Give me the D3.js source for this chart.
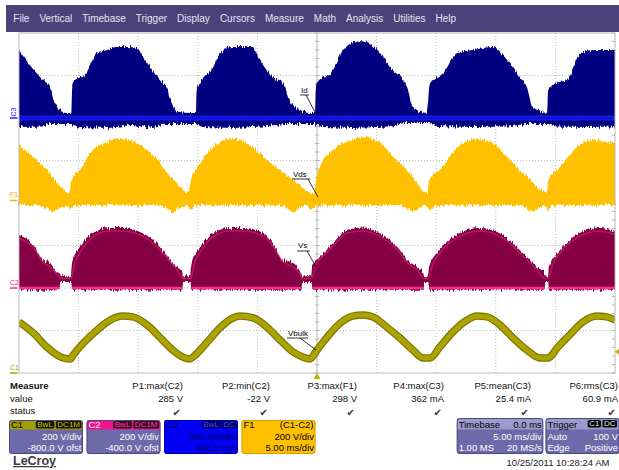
<!DOCTYPE html>
<html><head><meta charset="utf-8">
<script src="https://cdn.jsdelivr.net/npm/d3@7"></script>
<style>
html,body{margin:0;padding:0;background:#fff;}
svg{display:block;font-family:"Liberation Sans",Arial,sans-serif;}
</style></head><body>
<svg id="scope" width="619" height="470"></svg>
<script>
// ---- acquisition data (time in ms, trigger at 0) ----
const timeDomain = [-25, 25];

// C3 drain current Id (mA): upper and lower envelope of the switching trace
const idTop = [[-25,320],[-24.1,249],[-23.0,179],[-22.4,146],[-22.1,85],[-21.6,38],[-21.0,24],[-20.6,24],[-20.55,132],[-20.5,165],[-19.3,216],[-18.5,306],[-17.6,320],[-16.8,334],[-15.9,334],[-15.1,329],[-14.6,287],[-14.0,240],[-13.2,179],[-12.6,146],[-12.3,85],[-11.5,28],[-10.65,24],[-10.15,24],[-10.1,132],[-9.8,165],[-8.7,240],[-8.1,306],[-7.05,334],[-5.4,334],[-4.8,273],[-3.7,193],[-2.85,165],[-2.3,85],[-1.4,38],[-0.6,24],[-0.15,24],[-0.1,132],[0,165],[1.35,226],[2.2,320],[3.5,362],[5.3,306],[6.1,240],[7.55,146],[8.05,52],[9.2,24],[9.4,132],[9.5,165],[10.6,212],[11.75,306],[13.1,320],[14.75,334],[15.95,273],[17.0,193],[17.6,146],[18.1,52],[19.3,24],[19.4,132],[20.1,165],[21.0,179],[22.1,306],[23.2,320],[25,320]];
const idBottom = [[-25,-42],[-23,-40],[-22.4,-28],[-20.6,-28],[-20.0,-42],[-17.5,-47],[-15.5,-33],[-14,-45],[-12.5,-28],[-10.2,-28],[-9.6,-42],[-7,-47],[-4.5,-40],[-2.8,-28],[-0.2,-28],[0.5,-42],[3,-47],[6,-40],[7.3,-24],[9.4,-24],[10,-38],[13,-42],[16,-40],[17.5,-28],[19.4,-28],[20,-40],[23,-42],[25,-40]];

// F1 = C1 - C2, drain-source voltage Vds (V)
const vdsTop = [[-25,261],[-23.8,204],[-22.65,143],[-21.8,82],[-21.3,49],[-20.75,35],[-20.65,87],[-19.9,143],[-18.8,237],[-17.6,275],[-16.5,289],[-15.4,275],[-14.25,237],[-13.2,176],[-12.3,110],[-11.75,82],[-11.3,49],[-10.75,40],[-10.65,73],[-9.8,176],[-8.7,251],[-7.05,294],[-5.4,251],[-4.2,190],[-3.1,143],[-2.0,96],[-1.2,63],[-0.6,40],[-0.25,35],[-0.15,73],[0.25,157],[1.35,237],[2.5,275],[3.85,298],[5.3,270],[6.4,204],[7.55,143],[8.4,82],[9.05,40],[9.3,35],[9.4,96],[10.3,143],[11.75,247],[13.4,289],[14.75,270],[15.95,204],[17.0,143],[18.1,87],[18.7,49],[19.3,40],[19.4,96],[20.4,157],[21.8,251],[23.15,284],[25,270]];
const vdsBottom = [[-25,-21],[-23.2,-22],[-22.6,-38],[-22.15,-57],[-21.6,-34],[-21.0,-24],[-20.7,-40],[-20.4,-22],[-13.1,-22],[-12.6,-38],[-12.1,-59],[-11.6,-34],[-11.0,-24],[-10.65,-45],[-10.3,-22],[-3.0,-22],[-2.5,-38],[-2.0,-59],[-1.5,-34],[-0.9,-24],[-0.5,-42],[-0.1,-22],[7.1,-22],[7.55,-38],[8.05,-57],[8.6,-32],[9.1,-24],[9.5,-45],[9.9,-22],[17.1,-22],[17.6,-38],[18.1,-55],[18.7,-32],[19.1,-24],[19.4,-45],[19.8,-22],[25,-21]];

// C2 source voltage Vs (V): envelope, lower edge and the dense centre of the trace
const vsTop = [[-25,249],[-23.8,202],[-23.0,132],[-22.4,118],[-21.8,75],[-21.55,66],[-21.5,55],[-20.65,55],[-20.55,118],[-19.9,193],[-18.8,259],[-17.35,282],[-16.3,282],[-14.85,264],[-13.75,226],[-13.2,193],[-12.3,132],[-11.75,99],[-11.3,75],[-11.25,55],[-10.65,55],[-10.55,108],[-9.8,193],[-8.7,259],[-7.3,282],[-6.2,282],[-4.5,259],[-3.7,212],[-2.85,132],[-2.0,118],[-1.4,75],[-1.25,55],[-0.5,55],[-0.4,108],[0.25,146],[1.35,212],[2.5,273],[3.85,285],[5.05,264],[6.4,212],[6.95,179],[7.55,132],[8.4,99],[8.9,71],[9.0,55],[9.3,55],[9.4,99],[10.3,179],[11.15,226],[12.6,273],[13.7,282],[15.1,264],[16.45,212],[17.0,179],[17.85,132],[18.45,99],[19.1,71],[19.15,55],[19.4,55],[19.45,99],[20.4,179],[21.2,226],[22.65,273],[23.75,282],[25,264]];
const vsLow = [[-25,-8],[-21.6,-8],[-21.55,28],[-20.6,28],[-20.55,-8],[-14.1,-8],[-14,-22],[-13.9,-8],[-11.3,-8],[-11.25,28],[-10.6,28],[-10.55,-8],[-1.3,-8],[-1.25,28],[-0.45,28],[-0.4,-8],[8.95,-8],[9.0,28],[9.35,28],[9.4,-8],[19.1,-8],[19.15,28],[19.4,28],[19.45,-8],[25,-8]];
const vsCore = [[-25,235],[-23.8,190],[-23.0,122],[-22.4,100],[-21.8,62],[-21.5,45],[-20.65,45],[-20.3,120],[-19.9,165],[-18.8,240],[-17.35,268],[-16.3,268],[-14.85,250],[-13.75,212],[-13.2,180],[-12.3,122],[-11.6,75],[-11.25,45],[-10.6,45],[-10.3,115],[-9.8,170],[-8.7,242],[-7.3,268],[-6.2,268],[-4.5,245],[-3.7,198],[-2.85,125],[-2.0,100],[-1.4,62],[-1.25,45],[-0.45,45],[-0.1,110],[0.25,135],[1.35,198],[2.5,258],[3.85,268],[5.05,250],[6.4,198],[6.95,165],[7.55,120],[8.4,85],[8.95,45],[9.35,45],[9.7,110],[10.3,165],[11.15,212],[12.6,258],[13.7,268],[15.1,250],[16.45,198],[17.0,165],[17.85,120],[18.45,85],[19.1,45],[19.4,45],[19.8,115],[20.4,165],[21.2,212],[22.65,258],[23.75,268],[25,250]];

// C1 bulk capacitor voltage Vbulk (V)
const vbulk = [[-25,240],[-23.8,188],[-22.65,122],[-21.8,85],[-21.3,71],[-20.7,66],[-20.45,85],[-19.6,141],[-18.45,202],[-17.35,249],[-16.3,268],[-15.45,264],[-14.25,226],[-13.2,169],[-12.1,108],[-11.25,75],[-10.65,66],[-10.4,75],[-9.2,146],[-8.15,212],[-7.05,259],[-6.45,268],[-5.35,259],[-4.2,216],[-3.1,155],[-2.0,99],[-1.2,75],[-0.6,66],[0,108],[0.85,169],[1.95,235],[3.0,268],[3.85,273],[4.7,264],[5.85,216],[6.95,165],[8.05,108],[8.9,71],[9.5,71],[10.3,122],[11.4,193],[12.6,249],[13.4,268],[14.25,264],[15.35,226],[16.45,165],[17.6,108],[18.7,71],[19.4,71],[20.15,118],[21.2,179],[22.3,240],[23.5,268],[24.3,264],[25,249]];

// vertical settings per channel: units per division and offset
const c1Setting = {perDiv: 200, offset: -800};
const c2Setting = {perDiv: 200, offset: -400};
const c3Setting = {perDiv: 200, offset: 400};
const f1Setting = {perDiv: 200, offset: 12};
const triggerLevel = 100;

// ---- readouts ----
const menuItems = ["File","Vertical","Timebase","Trigger","Display","Cursors","Measure","Math","Analysis","Utilities","Help"];
const measureNames = ["P1:max(C2)","P2:min(C2)","P3:max(F1)","P4:max(C3)","P5:mean(C3)","P6:rms(C3)"];
const measureValues = ["285 V","-22 V","298 V","362 mA","25.4 mA","60.9 mA"];
const boxNames = ["C1","C2","C3","F1"];
const boxBadges = [["BwL","DC1M"],["BwL","DC1M"],["BwL","DC"],[]];
const boxHeadRight = ["","","","(C1-C2)"];
const boxRow1 = ["200 V/div","200 V/div","200 mA/div","200 V/div"];
const boxRow2 = ["-800.0 V ofst","-400.0 V ofst","400.0 mA","5.00 ms/div"];
const timebaseRows = [["Timebase","0.0 ms"],["","5.00 ms/div"],["1.00 MS","20 MS/s"]];
const triggerRows = [["Trigger",""],["Auto","100 V"],["Edge","Positive"]];
const triggerBadges = ["C1","DC"];
const stamp = "10/25/2011 10:28:24 AM";

// ---- drawing ----
const svg = d3.select("#scope");
const P = {left: 19, right: 615, top: 33, bottom: 373};
const x = d3.scaleLinear().domain(timeDomain).range([P.left, P.right]);
const divY = d3.scaleLinear().domain([-4, 4]).range([P.bottom, P.top]);
const chan = s => d3.scaleLinear().domain([-s.offset - 4*s.perDiv, -s.offset + 4*s.perDiv]).range([P.bottom, P.top]);
const yC1 = chan(c1Setting), yC2 = chan(c2Setting), yC3 = chan(c3Setting), yF1 = chan(f1Setting);

const defs = svg.append("defs");
defs.append("clipPath").attr("id","plotClip").append("rect")
  .attr("x",P.left).attr("y",P.top).attr("width",P.right-P.left).attr("height",P.bottom-P.top);
// jagged vertical noise on the dense switching traces
const f = defs.append("filter").attr("id","grain").attr("x","-1%").attr("y","-20%").attr("width","102%").attr("height","140%");
f.append("feTurbulence").attr("type","fractalNoise").attr("baseFrequency","0.85 0.06").attr("numOctaves",2).attr("seed",7).attr("result","n");
f.append("feColorMatrix").attr("in","n").attr("type","matrix")
  .attr("values","0 0 0 0 0.5  0 1 0 0 0  0 0 0 0 0  0 0 0 0 1").attr("result","m");
f.append("feDisplacementMap").attr("in","SourceGraphic").attr("in2","m").attr("scale",7)
  .attr("xChannelSelector","R").attr("yChannelSelector","G");

// menu bar
svg.append("rect").attr("x",6).attr("y",5).attr("width",613).attr("height",27).attr("fill","#4a4279");
let mx = 13.3;
menuItems.forEach(m => {
  const t = svg.append("text").attr("x",mx).attr("y",22).attr("font-size",10).attr("fill","#e6e4f0").text(m);
  mx += t.node().getComputedTextLength() + 10;
});

// grid
const grid = svg.append("g");
d3.range(-25, 26, 5).forEach(t => {
  if (t === -25 || t === 25) return;
  grid.append("line").attr("x1",x(t)).attr("x2",x(t)).attr("y1",P.top).attr("y2",P.bottom)
    .attr("stroke", t === 0 ? "#b4b4b4" : "#bdbdbd").attr("stroke-dasharray", t === 0 ? null : "1,2");
});
d3.range(-3, 4).forEach(d => {
  grid.append("line").attr("x1",P.left).attr("x2",P.right).attr("y1",divY(d)).attr("y2",divY(d))
    .attr("stroke", d === 0 ? "#b4b4b4" : "#bdbdbd").attr("stroke-dasharray", d === 0 ? null : "1,2");
});
d3.range(-4, 4.01, 0.2).forEach(d => {
  grid.append("line").attr("x1",x(0)-2).attr("x2",x(0)+2).attr("y1",divY(d)).attr("y2",divY(d)).attr("stroke","#b4b4b4");
  grid.append("line").attr("x1",P.right-3).attr("x2",P.right).attr("y1",divY(d)).attr("y2",divY(d)).attr("stroke","#b4b4b4");
});
d3.range(-25, 25.01, 1).forEach(t => {
  grid.append("line").attr("x1",x(t)).attr("x2",x(t)).attr("y1",divY(0)-2).attr("y2",divY(0)+2).attr("stroke","#b4b4b4");
});

function band(top, bottom, y) {
  const up = d3.line().x(d => x(d[0])).y(d => y(d[1])).curve(d3.curveMonotoneX)(top);
  const dn = d3.line().x(d => x(d[0])).y(d => y(d[1]))(bottom.slice().reverse());
  return up + "L" + dn.slice(1) + "Z";
}
const lineOf = y => d3.line().x(d => x(d[0])).y(d => y(d[1])).curve(d3.curveMonotoneX);

const traces = svg.append("g").attr("clip-path","url(#plotClip)");

// C3: Id
traces.append("g").attr("filter","url(#grain)").append("path")
  .attr("d", band(idTop, idBottom, yC3)).attr("fill","#000080");
traces.append("line").attr("x1",P.left).attr("x2",P.right).attr("y1",yC3(0)).attr("y2",yC3(0))
  .attr("stroke","#3a5cff").attr("stroke-width",5).attr("opacity",0.45);
traces.append("line").attr("x1",P.left).attr("x2",P.right).attr("y1",yC3(0)).attr("y2",yC3(0))
  .attr("stroke","#0a0aff").attr("stroke-width",2.6);

// F1: Vds
traces.append("g").attr("filter","url(#grain)").append("path")
  .attr("d", band(vdsTop, vdsBottom, yF1)).attr("fill","#ffc000");

// C2: Vs
traces.append("g").attr("filter","url(#grain)").append("path")
  .attr("d", band(vsTop, vsLow, yC2)).attr("fill","#850042");
// bright zero line of C2 beneath each hump
let seg = [];
const segs = [];
vsLow.forEach(d => { if (d[1] <= 0) seg.push(d[0]); else { if (seg.length) segs.push(seg); seg = []; } });
if (seg.length) segs.push(seg);
segs.forEach(s => {
  traces.append("line").attr("x1",x(s[0])).attr("x2",x(s[s.length-1])).attr("y1",yC2(0)).attr("y2",yC2(0))
    .attr("stroke","#ff2a95").attr("stroke-width",2.4);
});
traces.append("path").attr("d", lineOf(yC2)(vsCore)).attr("fill","none")
  .attr("stroke","#f0288e").attr("stroke-width",1.5).attr("opacity",0.5);

// C1: Vbulk
traces.append("path").attr("d", lineOf(yC1)(vbulk)).attr("fill","none")
  .attr("stroke","#7a7400").attr("stroke-width",7.5).attr("stroke-linejoin","round");
traces.append("path").attr("d", lineOf(yC1)(vbulk)).attr("fill","none")
  .attr("stroke","#aba300").attr("stroke-width",5.2).attr("stroke-linejoin","round");

// frame
svg.append("rect").attr("x",P.left).attr("y",P.top).attr("width",P.right-P.left).attr("height",P.bottom-P.top)
  .attr("fill","none").attr("stroke","#b8b8b8");

// trace name tags with leaders
const tags = [
  {text:"Id", tx:301, ty:93, ul:[300,309,95], lead:[306,95,317,116]},
  {text:"Vds", tx:293, ty:177, ul:[292,310,179], lead:[308,179,318,197]},
  {text:"Vs", tx:298, ty:248, ul:[297,310,251], lead:[307,251,316,267]},
  {text:"Vbulk", tx:288, ty:336, ul:[287,308,338], lead:[300,338,316,350]}
];
tags.forEach(t => {
  svg.append("text").attr("x",t.tx).attr("y",t.ty).attr("font-size",8).attr("fill","#000").text(t.text);
  svg.append("line").attr("x1",t.ul[0]).attr("x2",t.ul[1]).attr("y1",t.ul[2]).attr("y2",t.ul[2]).attr("stroke","#000").attr("stroke-width",0.8);
  svg.append("line").attr("x1",t.lead[0]).attr("y1",t.lead[1]).attr("x2",t.lead[2]).attr("y2",t.lead[3]).attr("stroke","#000").attr("stroke-width",0.8);
});

// channel zero markers on the left
const markers = [
  {name:"C3", y:yC3(0), color:"#1a1aff", rot:true},
  {name:"F1", y:yF1(0), color:"#f0b400"},
  {name:"C2", y:yC2(0), color:"#ff1493"},
  {name:"C1", y:yC1(0), color:"#a39b00"}
];
markers.forEach(m => {
  if (m.rot) {
    svg.append("text").attr("transform",`translate(16,${m.y-1.5}) rotate(-90)`).attr("font-size",7).attr("fill",m.color).text(m.name);
  } else {
    svg.append("text").attr("x",10).attr("y",m.y-3).attr("font-size",7).attr("fill",m.color).text(m.name);
  }
  svg.append("line").attr("x1",10).attr("x2",17.5).attr("y1",m.y).attr("y2",m.y).attr("stroke",m.color).attr("stroke-width",1.4);
});

// trigger position and level
svg.append("path").attr("d",`M${x(0)-3.5},${P.bottom+6}L${x(0)+3.5},${P.bottom+6}L${x(0)},${P.bottom}Z`).attr("fill","#bdb400");
svg.append("path").attr("d",`M${P.right+4},${yC1(triggerLevel)-3}L${P.right+4},${yC1(triggerLevel)+3}L${P.right},${yC1(triggerLevel)}Z`).attr("fill","#bdb400");

// measurement table
svg.append("text").attr("x",10).attr("y",389).attr("font-size",9.5).attr("font-weight","bold").attr("fill","#111").text("Measure");
svg.append("text").attr("x",10).attr("y",402).attr("font-size",9.5).attr("fill","#111").text("value");
svg.append("text").attr("x",10).attr("y",414).attr("font-size",9.5).attr("fill","#111").text("status");
measureNames.forEach((n, i) => {
  const r = 183 + i*87;
  svg.append("text").attr("x",r).attr("y",389).attr("text-anchor","end").attr("font-size",9.5).attr("fill","#111").text(n);
  svg.append("text").attr("x",r).attr("y",402).attr("text-anchor","end").attr("font-size",9.5).attr("fill","#111").text(measureValues[i]);
  svg.append("text").attr("x",r-2).attr("y",415.5).attr("text-anchor","end").attr("font-size",10)
    .attr("font-family","DejaVu Sans").attr("fill","#333").text("\u2714");
});

// readout boxes
const bodyPurple = "#6e69a8", edgePurple = "#4d4884";
const boxStyle = [
  {head:"#a59e00", body:bodyPurple, headInk:"#000", ink:"#fff", badgeBg:"#141400", badgeInk:"#cfc600", edge:edgePurple},
  {head:"#f0148c", body:bodyPurple, headInk:"#ffe0f0", ink:"#fff", badgeBg:"#3c0020", badgeInk:"#ff4aa8", edge:edgePurple},
  {head:"#0000f4", body:"#0000f4", headInk:"#00006a", ink:"#00005a", badgeBg:"#00005a", badgeInk:"#4a4aff", edge:"#0000b0"},
  {head:"#ffc000", body:"#ffc000", headInk:"#000", ink:"#000", badgeBg:"#000", badgeInk:"#ffc000", edge:"#d89e00"}
];
function readoutBox(id, bx, by, bw, bh, st, headH) {
  defs.append("clipPath").attr("id",id).append("rect").attr("x",bx).attr("y",by).attr("width",bw).attr("height",bh).attr("rx",3);
  const g = svg.append("g");
  const inner = g.append("g").attr("clip-path",`url(#${id})`);
  inner.append("rect").attr("x",bx).attr("y",by).attr("width",bw).attr("height",bh).attr("fill",st.body);
  inner.append("rect").attr("x",bx).attr("y",by).attr("width",bw).attr("height",headH).attr("fill",st.head);
  g.append("rect").attr("x",bx+0.5).attr("y",by+0.5).attr("width",bw-1).attr("height",bh-1).attr("rx",3)
    .attr("fill","none").attr("stroke",st.edge);
  return inner;
}
function badges(g, list, right, y, st) {
  let r = right;
  list.slice().reverse().forEach(b => {
    const t = g.append("text").attr("font-size",8).attr("fill",st.badgeInk).attr("y",y+6.3).text(b);
    const w = t.node().getComputedTextLength() + 3;
    t.attr("x", r - w + 1.5);
    g.insert("rect","text").attr("x",r-w).attr("y",y).attr("width",w).attr("height",7.5).attr("rx",1.5).attr("fill",st.badgeBg);
    r -= w + 1.5;
  });
}
const boxTop = 420, boxH = 34, boxW = 74;
boxNames.forEach((n, i) => {
  const bx = 9 + i*77.5, st = boxStyle[i];
  const g = readoutBox("box"+i, bx, boxTop, boxW, boxH, st, 9.5);
  g.append("text").attr("x",bx+2).attr("y",boxTop+8).attr("font-size",9.5).attr("fill",st.headInk).text(n);
  if (boxHeadRight[i]) g.append("text").attr("x",bx+boxW-2).attr("y",boxTop+8).attr("text-anchor","end").attr("font-size",9.5).attr("fill",st.headInk).text(boxHeadRight[i]);
  badges(g, boxBadges[i], bx+boxW-1.5, boxTop+1, st);
  g.append("text").attr("x",bx+boxW-1.5).attr("y",boxTop+20).attr("text-anchor","end").attr("font-size",9.5).attr("fill",st.ink).text(boxRow1[i]);
  g.append("text").attr("x",bx+boxW-1.5).attr("y",boxTop+31).attr("text-anchor","end").attr("font-size",9.5).attr("fill",st.ink).text(boxRow2[i]);
});
const sysStyle = {head:"#9e9acb", body:bodyPurple, headInk:"#000", ink:"#fff", badgeBg:"#000", badgeInk:"#e8e8e8", edge:edgePurple};
function sysBox(id, bx, bw, rows, badgeList) {
  const g = readoutBox(id, bx, boxTop-2, bw, 36, sysStyle, 11.5);
  rows.forEach((r, k) => {
    const y = boxTop + [8, 20, 31][k];
    const ink = k === 0 ? sysStyle.headInk : sysStyle.ink;
    if (r[0]) g.append("text").attr("x",bx+2).attr("y",y).attr("font-size",9.5).attr("fill",ink).text(r[0]);
    if (r[1]) g.append("text").attr("x",bx+bw-1.5).attr("y",y).attr("text-anchor","end").attr("font-size",9.5).attr("fill",ink).text(r[1]);
  });
  if (badgeList) badges(g, badgeList, bx+bw-2.5, boxTop, sysStyle);
}
sysBox("tb", 456.7, 86.6, timebaseRows);
sysBox("trg", 545.5, 74, triggerRows, triggerBadges);

svg.append("text").attr("x",558).attr("y",466).attr("text-anchor","middle").attr("font-size",9.5).attr("fill","#222").text(stamp);
svg.append("text").attr("x",13).attr("y",465).attr("font-size",12.5).attr("font-weight","bold").attr("fill","#3c3c3c")
  .attr("text-decoration","underline").text("LeCroy");
</script>
</body></html>
